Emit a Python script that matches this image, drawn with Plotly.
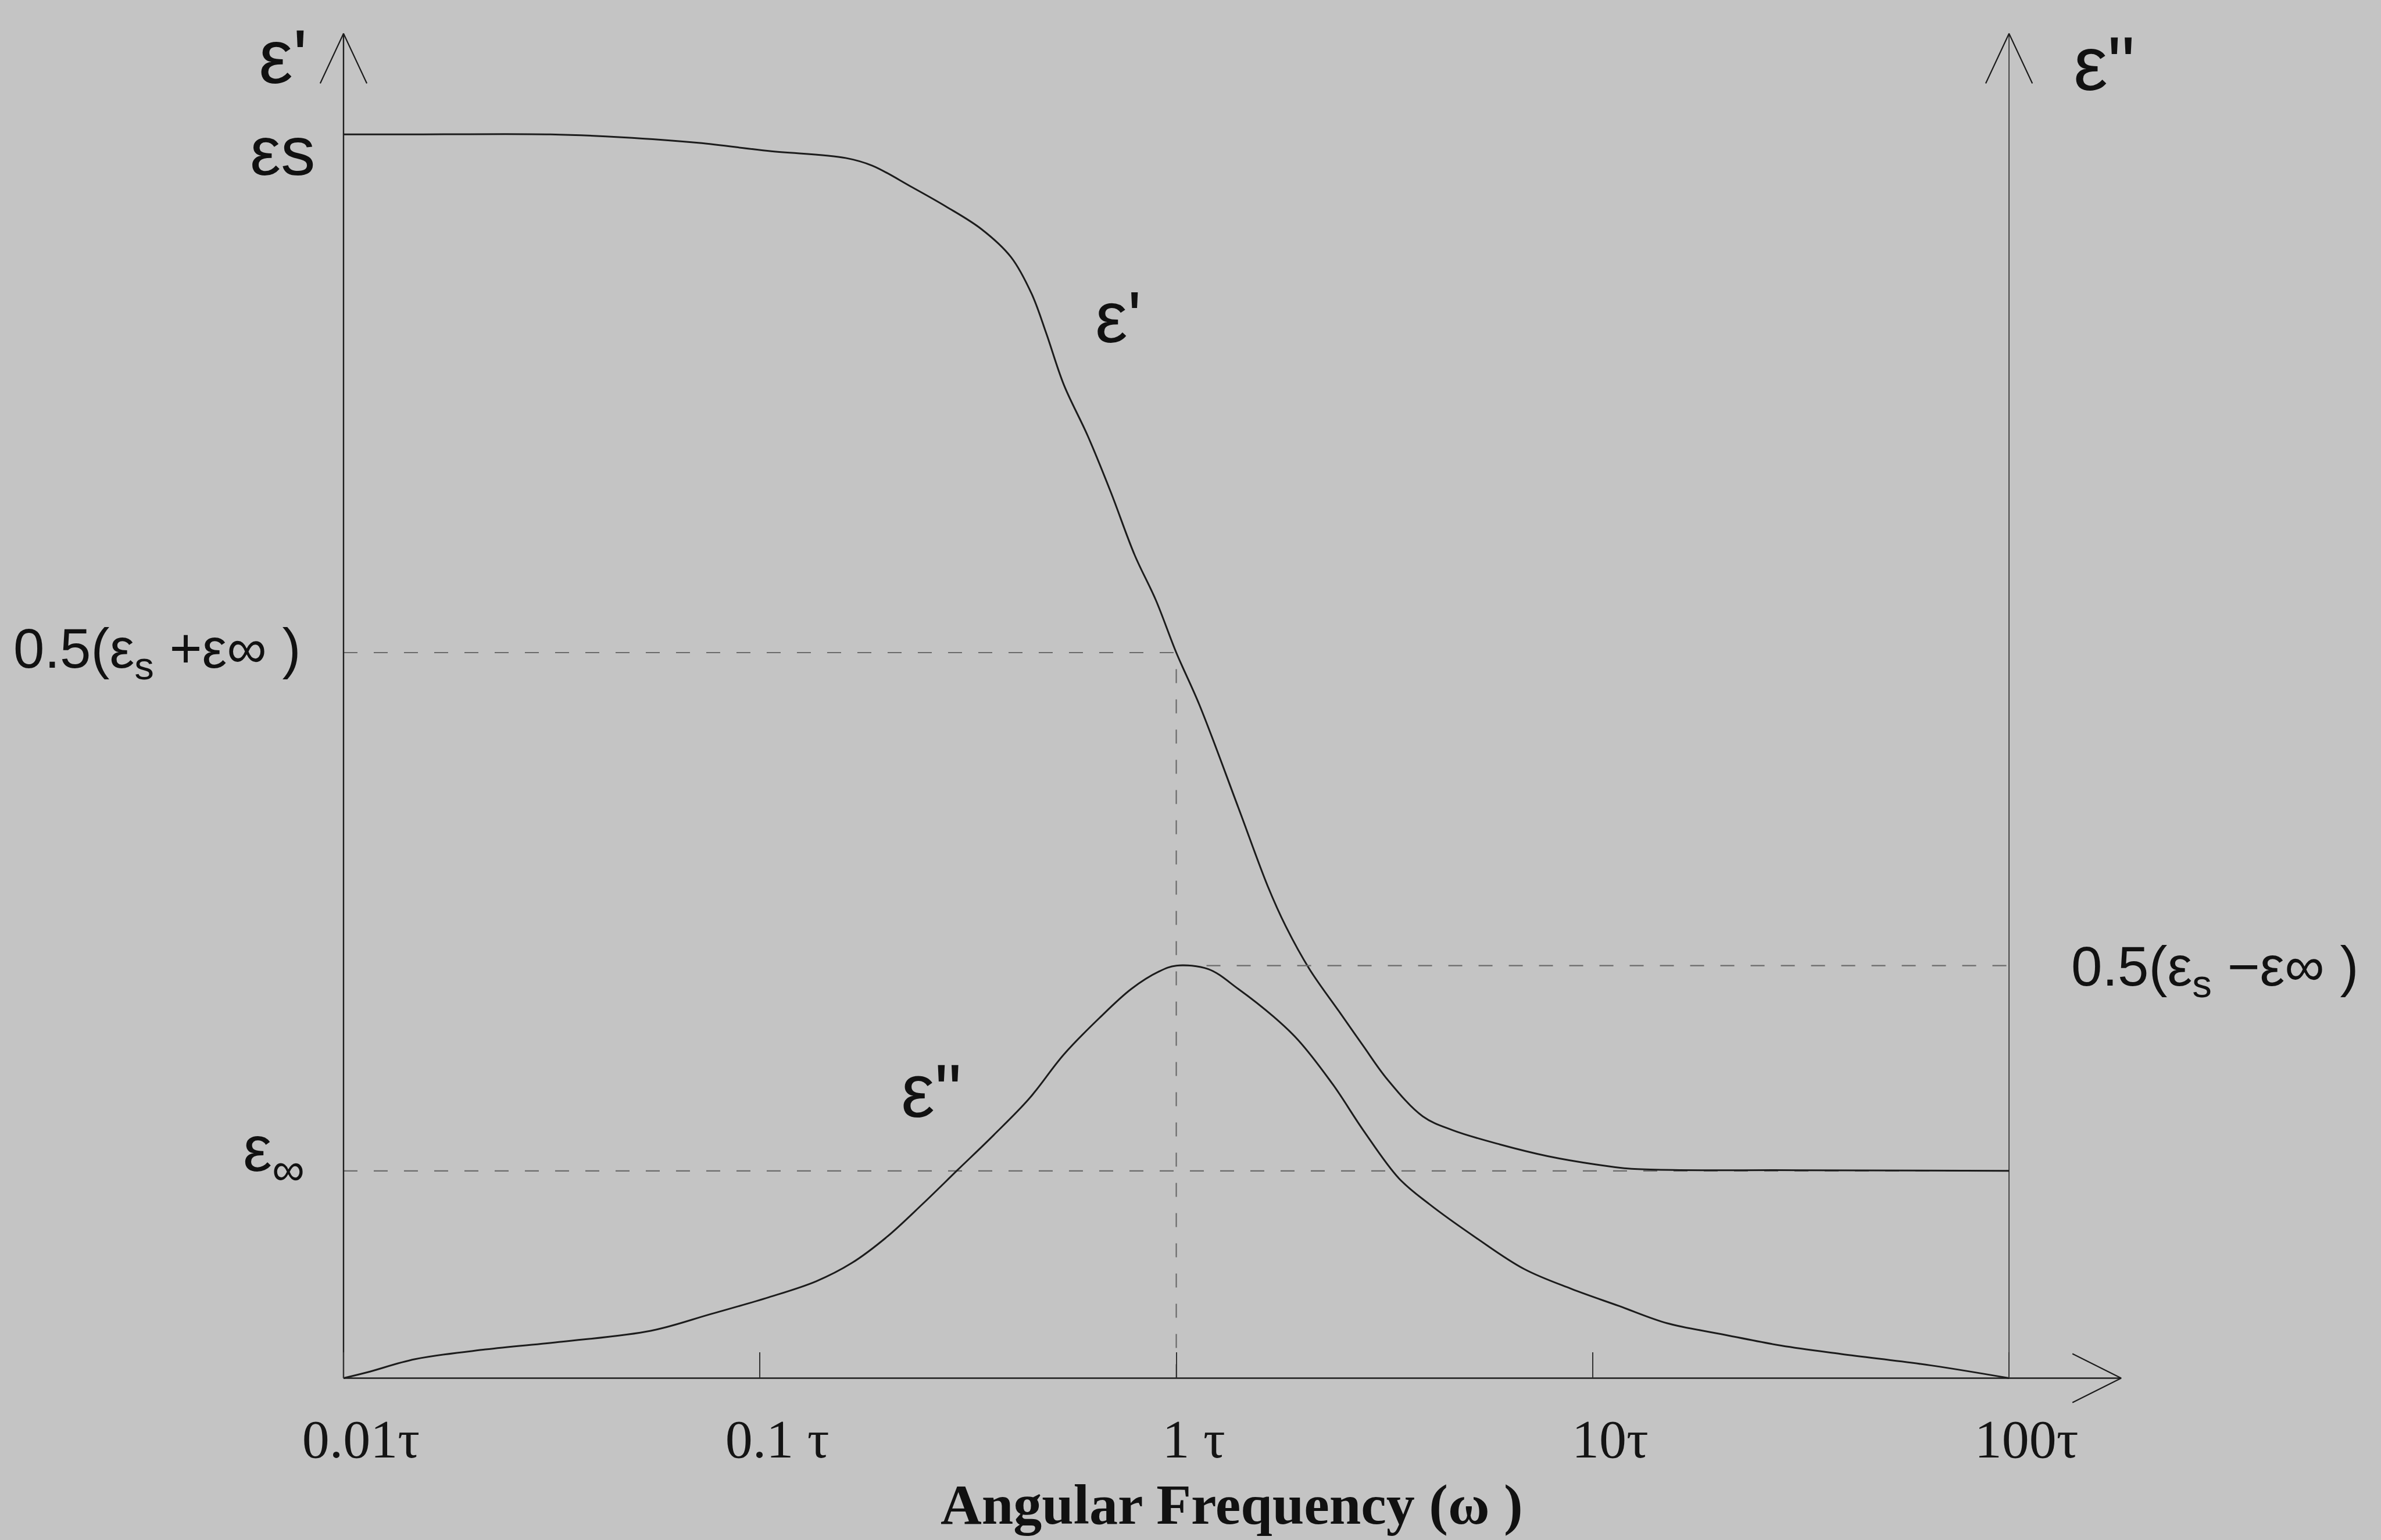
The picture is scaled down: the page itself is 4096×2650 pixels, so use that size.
import math
import plotly.graph_objects as go

# Debye relaxation: static and high-frequency permittivity (ε' axis units)
EPS_S = 6.0
EPS_INF = 1.0
EPS_MID = 0.5 * (EPS_S + EPS_INF)     # ε' at ωτ = 1
LOSS_PEAK = 0.5 * (EPS_S - EPS_INF)   # ε'' maximum at ωτ = 1

# Frequency axis ticks (multiples of 1/τ)
TICK_VALS = [0.01, 0.1, 1, 10, 100]
TICK_TEXT = ["0.01τ", "0.1 τ", "1 τ", "10τ", "100τ"]

# Real part ε'(ω)
OMEGA_REAL = [0.0100, 0.01486, 0.03141, 0.04656, 0.07112, 0.1050, 0.1607, 0.1862,
              0.2301, 0.2793, 0.3404, 0.4009, 0.4498, 0.4875, 0.5370, 0.6124,
              0.6966, 0.7943, 0.8933, 1.0, 1.138, 1.409, 1.660, 1.832, 2.089,
              2.460, 2.805, 3.214, 3.908, 4.613, 6.0, 7.798, 10.16, 12.39, 31.6, 100.0]
EPS_REAL = [6.000, 6.000, 6.000, 5.986, 5.959, 5.920, 5.886, 5.849,
            5.749, 5.653, 5.543, 5.408, 5.229, 5.039, 4.792, 4.547,
            4.273, 3.971, 3.753, 3.500, 3.245, 2.753, 2.371, 2.180, 1.973,
            1.769, 1.606, 1.441, 1.263, 1.196, 1.127, 1.071, 1.031, 1.010, 1.003, 1.000]

# Imaginary part ε''(ω)
OMEGA_LOSS = [0.0100, 0.01143, 0.01486, 0.02193, 0.03350, 0.05470, 0.07586, 0.1050,
              0.1365, 0.1660, 0.2018, 0.2455, 0.2985, 0.3639, 0.4426, 0.5370,
              0.6531, 0.7798, 0.9078, 1.0, 1.194, 1.409, 1.714, 1.959, 2.382,
              2.812, 3.428, 4.046, 5.260, 6.839, 8.892, 11.61, 15.10, 20.37,
              28.38, 39.54, 65.01, 100.0]
EPS_LOSS = [0.000, 0.036, 0.115, 0.174, 0.221, 0.287, 0.387, 0.490,
            0.587, 0.697, 0.856, 1.054, 1.262, 1.472, 1.692, 1.962,
            2.182, 2.359, 2.464, 2.500, 2.479, 2.359, 2.190, 2.051, 1.777,
            1.503, 1.210, 1.056, 0.849, 0.662, 0.541, 0.436, 0.333, 0.267,
            0.197, 0.146, 0.077, 0.000]

# ---- drawing geometry -------------------------------------------------------
W, H = 4096, 2650
BG = "#c4c4c4"
INK = "#1c1c1c"
DASH_COLOR = "#6a6a6a"
SANS = "Liberation Sans"
SERIF = "Liberation Serif"

X_RANGE = [-2.12, 2.30]          # log10(ω τ)
Y_RANGE = [-0.15, 6.55]          # ε' units
LOSS_SCALE = 490.0 / 390.0       # ε'' drawn on its own, stretched axis
Y2_RANGE = [v * LOSS_SCALE for v in Y_RANGE]

Y_TOP = 6.486                    # end of the vertical axis arrows
X_TIP = 10 ** 2.2693             # end of the frequency arrow
ARROW_DEC = 0.056                # arrow half-width (decades)
ARROW_LEN_Y = 0.24               # arrow length (ε' units)
ARROW_LEN_DEC = 0.117            # horizontal arrow length (decades)
ARROW_HALF_Y = 0.118             # horizontal arrow half-width (ε' units)

x_lo, x_hi = TICK_VALS[0], TICK_VALS[-1]

fig = go.Figure()


def seg(xs, ys, color=INK, width=2.4, dash=None, yaxis="y"):
    fig.add_trace(go.Scatter(
        x=xs, y=ys, mode="lines", yaxis=yaxis, hoverinfo="skip",
        line=dict(color=color, width=width, dash=dash),
    ))


DASH = "24px,28px"
# guide lines
seg([x_lo, 1], [EPS_MID, EPS_MID], DASH_COLOR, 2.2, DASH)
seg([1, 1], [0, EPS_MID], DASH_COLOR, 2.2, DASH)
seg([x_lo, x_hi], [EPS_INF, EPS_INF], DASH_COLOR, 2.2, DASH)
seg([1, x_hi], [LOSS_PEAK, LOSS_PEAK], DASH_COLOR, 2.2, DASH, yaxis="y2")

# axes with open arrowheads
seg([x_lo, x_lo], [0, Y_TOP], INK, 2.4)
seg([x_hi, x_hi], [0, Y_TOP], "#3a3a3a", 1.8)
seg([x_lo, X_TIP], [0, 0], INK, 2.4)
for xv in (x_lo, x_hi):
    lx = math.log10(xv)
    seg([10 ** (lx - ARROW_DEC), xv, 10 ** (lx + ARROW_DEC)],
        [Y_TOP - ARROW_LEN_Y, Y_TOP, Y_TOP - ARROW_LEN_Y], INK, 2.2)
lt = math.log10(X_TIP)
seg([10 ** (lt - ARROW_LEN_DEC), X_TIP, 10 ** (lt - ARROW_LEN_DEC)],
    [ARROW_HALF_Y, 0, -ARROW_HALF_Y], INK, 2.2)

# the two dispersion curves
fig.add_trace(go.Scatter(x=OMEGA_REAL, y=EPS_REAL, mode="lines", hoverinfo="skip",
                         line=dict(color=INK, width=3, shape="spline", smoothing=1.0)))
fig.add_trace(go.Scatter(x=OMEGA_LOSS, y=EPS_LOSS, mode="lines", yaxis="y2",
                         hoverinfo="skip",
                         line=dict(color=INK, width=3, shape="spline", smoothing=1.0)))


def label(text, x, y, size, family=SANS, xanchor="center", yanchor="middle",
          xshift=0, yshift=0, yref="y", xref="x"):
    fig.add_annotation(text=text, x=x, y=y, xref=xref, yref=yref, showarrow=False,
                       xanchor=xanchor, yanchor=yanchor, xshift=xshift, yshift=yshift,
                       font=dict(family=family, size=size, color="#111111"))


lx_lo, lx_hi = math.log10(x_lo), math.log10(x_hi)
label("ε'", lx_lo, Y_TOP, 132, xshift=-104, yshift=-40)
label('ε"', 2.229, 6.34, 132)
label("εs", lx_lo, EPS_S, 119, xanchor="right", xshift=-46, yshift=-28)
label("0.5(ε<sub>s</sub> +ε∞ )", lx_lo, EPS_MID, 96, xanchor="right", xshift=-72)
label("ε<sub>∞</sub>", lx_lo, EPS_INF, 112, xanchor="right", xshift=-65, yshift=30)
label("0.5(ε<sub>s</sub> −ε∞ )", lx_hi, LOSS_PEAK, 96, xanchor="left",
      xshift=105, yshift=-8, yref="y2")
label("ε'", -0.139, 5.12, 125)
label('ε"', -0.588, 1.387, 130)
label("<b>Angular Frequency (ω )</b>", 0.5098, -0.0685, 98, family=SERIF,
      xref="paper", yref="paper")

fig.update_layout(
    width=W, height=H, autosize=False,
    paper_bgcolor=BG, plot_bgcolor=BG,
    margin=dict(l=504.5, r=425.4, t=35.3, b=224.7, pad=0),
    showlegend=False,
    xaxis=dict(
        type="log", range=X_RANGE, tickvals=TICK_VALS, ticktext=TICK_TEXT,
        ticks="inside", ticklen=44, tickwidth=2, tickcolor="#333333",
        showline=False, showgrid=False, zeroline=False,
        anchor="free", position=-Y_RANGE[0] / (Y_RANGE[1] - Y_RANGE[0]),
        tickfont=dict(family=SERIF, size=94, color="#141414"),
        ticklabelstandoff=42, ticklabelshift=30,
    ),
    yaxis=dict(range=Y_RANGE, visible=False),
    yaxis2=dict(range=Y2_RANGE, overlaying="y", visible=False),
)

fig.write_html("out.html")
